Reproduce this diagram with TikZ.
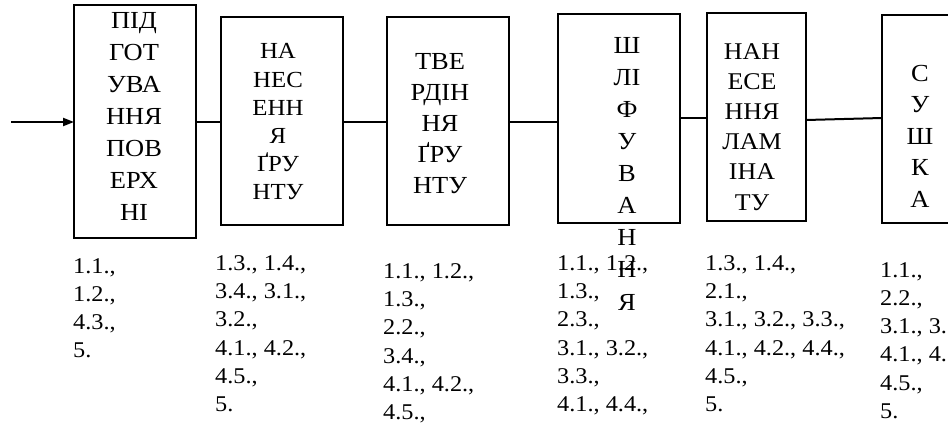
\documentclass[tikz,border=0pt]{standalone}
\usepackage{fontspec}
\setmainfont[FakeStretch=1.08]{Liberation Serif}
\usetikzlibrary{arrows.meta}
\tikzset{
  box/.style={draw, line width=2pt, inner sep=0pt, outer sep=0pt},
  link/.style={line width=2pt},
  boxtext/.style={anchor=north, inner sep=0pt, align=center},
  numtext/.style={anchor=north west, inner sep=0pt, align=left, font=\fontsize{22.5}{28.3}\selectfont}
}
\begin{document}
\begin{tikzpicture}[x=1pt,y=-1pt]
\useasboundingbox (0,0) rectangle (948,423);
% boxes
\node[box, minimum width=122pt, minimum height=233pt] (b1) at (135,121.5) {};
\node[box, minimum width=122pt, minimum height=208pt] (b2) at (282,121) {};
\node[box, minimum width=122pt, minimum height=208pt] (b3) at (448,121) {};
\node[box, minimum width=122pt, minimum height=209pt] (b4) at (619,118.5) {};
\node[box, minimum width=99pt, minimum height=208pt] (b5) at (756.5,117) {};
\node[box, minimum width=118pt, minimum height=208pt] (b6) at (941,119) {};
% box texts
\node[boxtext, font=\fontsize{24.5}{32}\selectfont] (t1) at (134,12) {ПІД\\ГОТ\\УВА\\ННЯ\\ПОВ\\ЕРХ\\НІ};
\node[boxtext, font=\fontsize{23}{28.2}\selectfont] (t2) at (278,43.5) {НА\\НЕС\\ЕНН\\Я\\ҐРУ\\НТУ};
\node[boxtext, font=\fontsize{24.5}{31}\selectfont] (t3) at (440,53) {ТВЕ\\РДІН\\НЯ\\ҐРУ\\НТУ};
\node[boxtext, font=\fontsize{24.5}{32.1}\selectfont] (t4) at (627,37) {Ш\\ЛІ\\Ф\\У\\В\\А\\Н\\Н\\Я};
\node[boxtext, font=\fontsize{24}{30.2}\selectfont] (t5) at (752,43) {НАН\\ЕСЕ\\ННЯ\\ЛАМ\\ІНА\\ТУ};
\node[boxtext, font=\fontsize{24.5}{31.5}\selectfont] (t6) at (920,65) {С\\У\\Ш\\К\\А};
% connectors
\coordinate (start) at (11,122);
\coordinate (lvl2) at (0,118);
\draw[link, -{Triangle[length=11pt,width=8pt]}] (start) -- (start -| b1.west);
\draw[link] (start -| b1.east) -- (start -| b2.west);
\draw[link] (start -| b2.east) -- (start -| b3.west);
\draw[link] (start -| b3.east) -- (start -| b4.west);
\draw[link] (lvl2 -| b4.east) -- (lvl2 -| b5.west);
\draw[link] ([yshift=-2pt]lvl2 -| b5.east) -- (lvl2 -| b6.west);
% number lists
\node[numtext] (n1) at (73,258) {1.1.,\\1.2.,\\4.3.,\\5.};
\node[numtext] (n2) at (215,255) {1.3., 1.4.,\\3.4., 3.1.,\\3.2.,\\4.1., 4.2.,\\4.5.,\\5.};
\node[numtext] (n3) at (383,263) {1.1., 1.2.,\\1.3.,\\2.2.,\\3.4.,\\4.1., 4.2.,\\4.5.,};
\node[numtext] (n4) at (557,255) {1.1., 1.2.,\\1.3.,\\2.3.,\\3.1., 3.2.,\\3.3.,\\4.1., 4.4.,};
\node[numtext] (n5) at (705,255) {1.3., 1.4.,\\2.1.,\\3.1., 3.2., 3.3.,\\4.1., 4.2., 4.4.,\\4.5.,\\5.};
\node[numtext] (n6) at (880,262) {1.1.,\\2.2.,\\3.1., 3.\\4.1., 4.\\4.5.,\\5.};
\end{tikzpicture}
\end{document}
